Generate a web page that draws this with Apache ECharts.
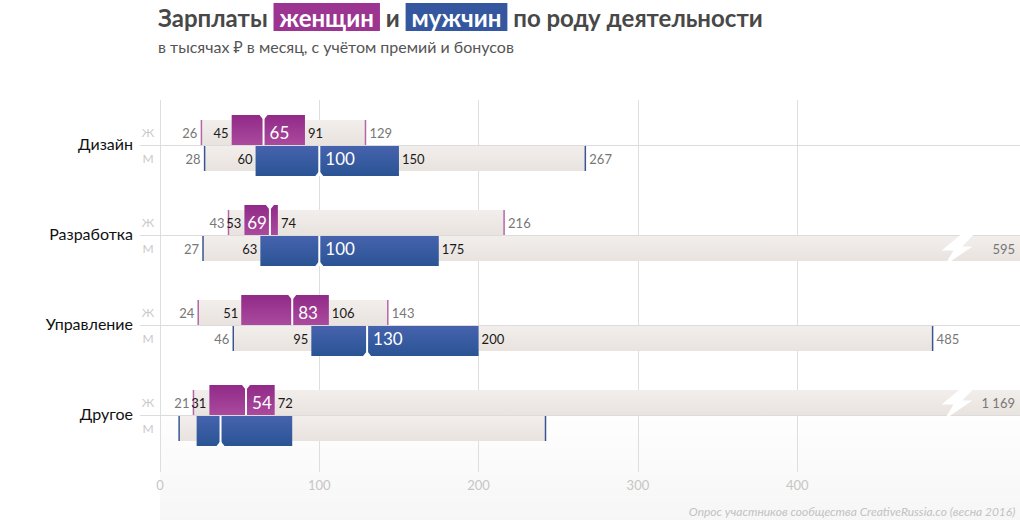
<!DOCTYPE html>
<html>
<head>
<meta charset="utf-8">
<script src="https://cdn.jsdelivr.net/npm/echarts@6/dist/echarts.min.js"></script>
<style>
html,body{margin:0;padding:0;background:#fff;}
#chart{width:1020px;height:520px;}
</style>
</head>
<body>
<div id="chart"></div>
<script>
const categories = ['Дизайн', 'Разработка', 'Управление', 'Другое'];
const genderLabels = ['Ж', 'М'];
const womenMin    = [26, 43, 24, 21];
const womenQ1     = [45, 53, 51, 31];
const womenMedian = [65, 69, 83, 54];
const womenQ3     = [91, 74, 106, 72];
const womenMax    = [129, 216, 143, 1169];
const menMin      = [28, 27, 46, 12];
const menQ1       = [60, 63, 95, 23];
const menMedian   = [100, 100, 130, 38];
const menQ3       = [150, 175, 200, 83];
const menMax      = [267, 595, 485, 242];
const womenLabelsShown = [1, 1, 1, 1];
const menLabelsShown   = [1, 1, 1, 0];
const xTicks = [0, 100, 200, 300, 400];
const xMax = 500;

const rows = [];
categories.forEach((_, i) => {
  rows.push([i, 0, womenMin[i], womenQ1[i], womenMedian[i], womenQ3[i], womenMax[i], womenLabelsShown[i]]);
  rows.push([i, 1, menMin[i], menQ1[i], menMedian[i], menQ3[i], menMax[i], menLabelsShown[i]]);
});

const FONT = 'Lato, "Noto Sans", sans-serif';
const G = echarts.graphic;
const beigeFill = () => new G.LinearGradient(0, 0, 0, 1, [{offset: 0, color: '#f2eeeb'}, {offset: 1, color: '#e9e3df'}]);
const boxFill = [
  () => new G.LinearGradient(0, 0, 0, 1, [{offset: 0, color: '#912a87'}, {offset: 1, color: '#aa4a9e'}]),
  () => new G.LinearGradient(0, 0, 0, 1, [{offset: 0, color: '#4663ad'}, {offset: 1, color: '#2a5494'}])
];
const tickColor = ['#b466a8', '#3a5593'];
const fmt = v => String(v).replace(/\B(?=(\d{3})+(?!\d))/g, '\u00a0');

function txt(text, x, y, opts) {
  return {
    type: 'text',
    style: Object.assign({
      text: String(text), x: x, y: y, fill: '#222', fontSize: 13, fontFamily: FONT,
      align: 'left', verticalAlign: 'middle'
    }, opts || {})
  };
}

function renderItem(params, api) {
  const cat = api.value(0), g = api.value(1);
  const vmin = api.value(2), q1 = api.value(3), med = api.value(4), q3 = api.value(5), vmax = api.value(6);
  const show = api.value(7);
  const X = v => api.coord([v, cat])[0];
  const c = Math.round(api.coord([0, cat])[1]);
  const W = api.getWidth();
  const broken = vmax > xMax;
  const barH = 25, boxH = 30;
  const barTop = g === 0 ? c - barH : c + 1;
  const boxTop = g === 0 ? c - boxH : c + 1;
  const ly = barTop + barH / 2;
  const children = [];

  if (g === 0) {
    children.push({type: 'line', shape: {x1: 140, y1: c + 0.5, x2: W, y2: c + 0.5}, style: {stroke: '#dcdcdc', lineWidth: 1}});
    children.push(txt(categories[cat], 133, c - 2, {fontSize: 16, fill: '#111', align: 'right'}));
  }
  children.push(txt(genderLabels[g], 148, ly, {fontSize: 12, fill: '#c9c9c9', align: 'center'}));

  const xMin = X(vmin), xq1 = X(q1), xMed = X(med), xq3 = X(q3);
  const xEnd = broken ? W : X(vmax);
  children.push({type: 'rect', shape: {x: xMin, y: barTop, width: xEnd - xMin, height: barH}, style: {fill: beigeFill()}});
  children.push({type: 'rect', shape: {x: xMin - 0.75, y: barTop, width: 1.5, height: barH}, style: {fill: tickColor[g]}});
  if (!broken) {
    children.push({type: 'rect', shape: {x: xEnd - 0.75, y: barTop, width: 1.5, height: barH}, style: {fill: tickColor[g]}});
  } else {
    const bx = X(xMax), by = ly;
    const pts = [[8, -17], [20, -17], [6, -2], [16, -2], [-12, 17], [-3, 2], [-15, 2]].map(p => [bx + p[0], by + p[1]]);
    children.push({type: 'polygon', shape: {points: pts}, style: {fill: '#ffffff'}});
  }
  children.push({type: 'rect', shape: {x: xq1, y: boxTop, width: xq3 - xq1, height: boxH}, style: {fill: boxFill[g]()}});
  children.push({type: 'rect', shape: {x: xMed - 1, y: boxTop, width: 2, height: boxH}, style: {fill: '#ffffff'}});
  const edge = g === 0 ? boxTop : boxTop + boxH;
  const dir = g === 0 ? 1 : -1;
  children.push({type: 'polygon', shape: {points: [[xMed - 4, edge], [xMed + 4, edge], [xMed, edge + dir * 5]]}, style: {fill: '#ffffff'}});

  if (show) {
    children.push(txt(vmin, xMin - 4, ly, {fill: '#777777', align: 'right'}));
    children.push(txt(q1, xq1 - 3, ly, {fill: '#1a1a1a', align: 'right'}));
    const medW = String(med).length * 9.5;
    if (xq3 - xMed >= medW + 8) {
      children.push(txt(med, xMed + 6, ly, {fill: '#ffffff', fontSize: 17}));
    } else {
      children.push(txt(med, xMed - 3, ly, {fill: '#ffffff', fontSize: 17, align: 'right'}));
    }
    children.push(txt(q3, xq3 + 3, ly, {fill: '#1a1a1a'}));
    if (broken) {
      children.push(txt(fmt(vmax), W - 5, ly, {fill: '#777777', align: 'right'}));
    } else {
      children.push(txt(fmt(vmax), xEnd + 4, ly, {fill: '#777777'}));
    }
  }
  return {type: 'group', children: children};
}

const chart = echarts.init(document.getElementById('chart'), null, {renderer: 'svg'});
chart.setOption({
  backgroundColor: '#ffffff',
  animation: false,
  title: {
    text: 'Зарплаты {w|женщин} и {m|мужчин} по роду деятельности',
    left: 158,
    top: 2,
    padding: 0,
    itemGap: 5,
    textStyle: {
      fontFamily: FONT, fontSize: 24, fontWeight: 'bold', color: '#484848', lineHeight: 30,
      rich: {
        w: {backgroundColor: '#9b3591', color: '#fff', fontFamily: FONT, fontSize: 24, fontWeight: 'bold', padding: [2, 6, 2, 6], lineHeight: 26},
        m: {backgroundColor: '#34579f', color: '#fff', fontFamily: FONT, fontSize: 24, fontWeight: 'bold', padding: [2, 6, 2, 6], lineHeight: 26}
      }
    },
    subtext: 'в тысячах ₽ в месяц, с учётом премий и бонусов',
    subtextStyle: {fontFamily: FONT, fontSize: 16, color: '#555', lineHeight: 18}
  },
  graphic: [
    {
      type: 'rect', left: 160, top: 400, silent: true,
      shape: {width: 860, height: 120},
      style: {fill: new G.LinearGradient(0, 0, 0, 1, [{offset: 0, color: 'rgba(0,0,0,0)'}, {offset: 1, color: 'rgba(0,0,0,0.035)'}])}
    },
    {
      type: 'text', right: 5, bottom: 3,
      style: {text: 'Опрос участников сообщества CreativeRussia.co (весна 2016)', fill: '#c2c2c2', fontSize: 12, fontStyle: 'italic', fontFamily: FONT}
    }
  ],
  grid: {left: 160, right: 1020 - 160 - 796.5, top: 100, bottom: 48, containLabel: false},
  xAxis: {
    type: 'value', min: 0, max: xMax, interval: 100,
    axisLine: {show: false}, axisTick: {show: false},
    axisLabel: {color: '#c6c6c6', fontSize: 13, fontFamily: FONT, margin: 6,
      formatter: v => xTicks.indexOf(v) >= 0 ? String(v) : ''},
    splitLine: {show: true, showMaxLine: false, lineStyle: {color: '#dedede', width: 1}}
  },
  yAxis: {type: 'value', min: -0.5, max: 3.6333, inverse: true, show: false},
  series: [{
    type: 'custom',
    renderItem: renderItem,
    clip: false,
    encode: {x: [2, 3, 4, 5, 6], y: 0},
    data: rows
  }]
});
</script>
</body>
</html>
